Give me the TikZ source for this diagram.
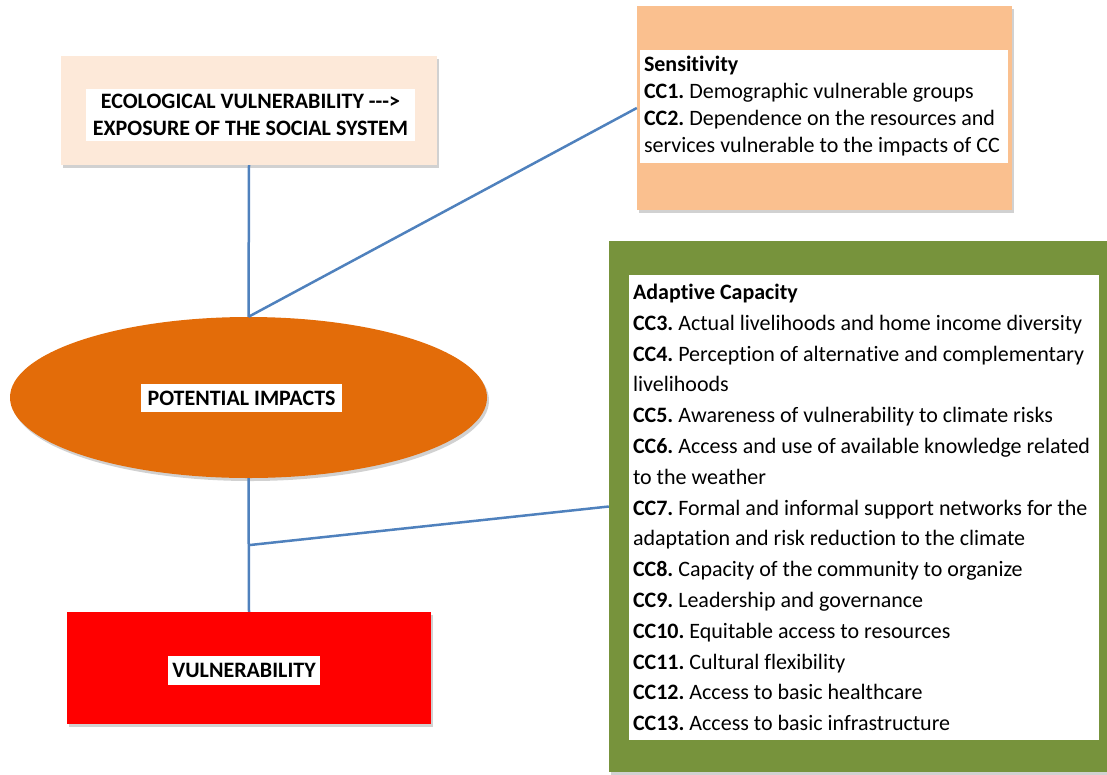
\documentclass[tikz,border=0pt]{standalone}
\usepackage{fontspec}
\setmainfont[Ligatures={NoCommon}]{Carlito}
\usetikzlibrary{shapes.geometric,shadows}
\definecolor{ecofill}{HTML}{FDE9D9}
\definecolor{sensfill}{HTML}{FAC08F}
\definecolor{potfill}{HTML}{E36C09}
\definecolor{adaptfill}{HTML}{77933C}
\definecolor{vulfill}{HTML}{FF0000}
\definecolor{linkcol}{HTML}{4F81BD}
\frenchspacing
\hyphenpenalty=10000
\begin{document}
\begin{tikzpicture}[x=1pt,y=-1pt,
  outerbox/.style={rectangle, draw=none, inner sep=0pt,
    drop shadow={shadow xshift=2pt, shadow yshift=-3pt, opacity=0.3, fill=black!60}},
  whitebox/.style={rectangle, fill=white, draw=none, inner xsep=4pt, inner ysep=0pt,
    font=\fontsize{22}{27}\selectfont},
  link/.style={draw=linkcol, line width=2.5pt}]
\useasboundingbox (0,0) rectangle (1107,774);
% outer shapes
\node[outerbox, fill=ecofill, minimum width=376pt, minimum height=109pt] (eco) at (249,110.5) {};
\node[outerbox, fill=sensfill, minimum width=375pt, minimum height=204pt] (sens) at (824.5,108) {};
\node[ellipse, fill=potfill, inner sep=0pt, minimum width=477pt, minimum height=161pt,
  drop shadow={shadow xshift=2pt, shadow yshift=-3pt, opacity=0.3, fill=black!60}] (pot) at (248.5,397.5) {};
\node[outerbox, fill=adaptfill, minimum width=500pt, minimum height=531pt] (adapt) at (859,506.5) {};
\node[outerbox, fill=vulfill, minimum width=364pt, minimum height=112pt] (vul) at (249,668) {};
% connectors
\coordinate (j) at (250,545);
\draw[link] (eco.south) -- (pot.north);
\draw[link] (sens.west) -- (pot.north);
\draw[link] (pot.south) -- (vul.north);
\draw[link] (j) -- (adapt.west);
% labels
\node[whitebox, minimum width=329pt, minimum height=52pt, align=center, font=\fontsize{22}{27}\selectfont\bfseries] (ecotext) at (250.5,115)
  {ECOLOGICAL VULNERABILITY -\kern0pt-\kern0pt->\\EXPOSURE OF THE SOCIAL SYSTEM};
\node[whitebox, text width=360pt, minimum height=113pt, align=flush left] (senstext) at (824,106)
  {\textbf{Sensitivity}\\
   \textbf{CC1.} Demographic vulnerable groups\\
   \textbf{CC2.} Dependence on the resources and\\
   services vulnerable to the impacts of CC};
\node[whitebox, minimum width=201pt, minimum height=28pt, font=\fontsize{22}{27}\selectfont\bfseries] (pottext) at (241.5,398) {POTENTIAL IMPACTS};
\node[whitebox, text width=462pt, minimum height=465pt, align=flush left, font=\fontsize{22}{30.8}\selectfont] (adapttext) at (864,507.5)
  {\textbf{Adaptive Capacity}\\
   \textbf{CC3.} Actual livelihoods and home income diversity\\
   \textbf{CC4.} Perception of alternative and complementary\\
   livelihoods\\
   \textbf{CC5.} Awareness of vulnerability to climate risks\\
   \textbf{CC6.} Access and use of available knowledge related\\
   to the weather\\
   \textbf{CC7.} Formal and informal support networks for the\\
   adaptation and risk reduction to the climate\\
   \textbf{CC8.} Capacity of the community to organize\\
   \textbf{CC9.} Leadership and governance\\
   \textbf{CC10.} Equitable access to resources\\
   \textbf{CC11.} Cultural flexibility\\
   \textbf{CC12.} Access to basic healthcare\\
   \textbf{CC13.} Access to basic infrastructure};
\node[whitebox, minimum width=148pt, minimum height=29pt, font=\fontsize{22}{27}\selectfont\bfseries] (vultext) at (244,670.5) {VULNERABILITY};
\end{tikzpicture}
\end{document}
